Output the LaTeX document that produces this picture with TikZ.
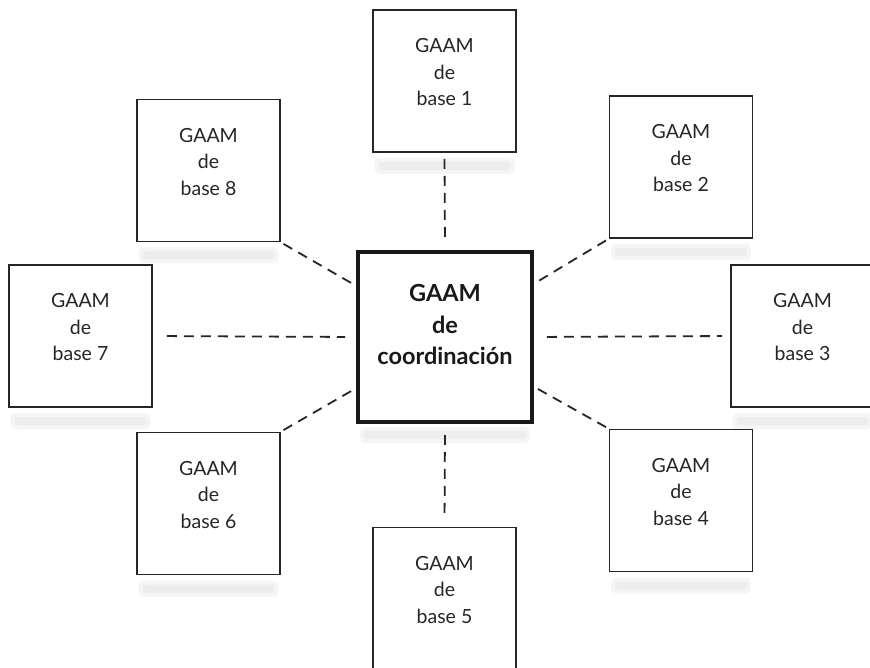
\documentclass[tikz,border=0pt]{standalone}
\usepackage{fontspec}
\setmainfont{Lato}
\begin{document}
\begin{tikzpicture}[x=1pt,y=-1pt,
  basebox/.style={draw=black!85,line width=1.8pt,fill=white,minimum width=143pt,minimum height=142pt,inner sep=0pt},
  mainbox/.style={draw=black!90,line width=3.8pt,fill=white,minimum width=174pt,minimum height=170pt,inner sep=0pt},
  basetext/.style={font=\fontsize{19.5}{26.5}\selectfont,align=center,text=black!85,inner sep=0pt},
  maintext/.style={font=\fontsize{23.5}{31.5}\selectfont\bfseries,align=center,text=black!90,inner sep=0pt},
  link/.style={draw=black!85,line width=1.8pt,dash pattern=on 10pt off 7pt},
  ghost/.style={fill=black!4,draw=none,rounded corners=5pt},
  ghostin/.style={fill=black!7,draw=none,rounded corners=3pt}
]
\useasboundingbox (0,0) rectangle (870,668);
\fill[white] (0,0) rectangle (870,668);
% soft shadows below boxes
\foreach \x/\y in {444.5/81, 681/167, 802.5/336, 681/500.5, 444.5/598.5, 208.5/503.5, 80.5/336, 208.5/170.5}{
  \fill[ghost] (\x-70,\y+77) rectangle (\x+70,\y+93);
  \fill[ghostin] (\x-66,\y+81) rectangle (\x+66,\y+89);
}
\fill[ghost] (445-85,337+90) rectangle (445+85,337+106);
\fill[ghostin] (445-81,337+94) rectangle (445+81,337+102);

\node[mainbox] (c) at (445,337) {};
\node[maintext] (ct) at (445,325) {GAAM\\de\\coordinación};

\node[basebox] (b1) at (444.5,81) {};
\node[basebox] (b2) at (681,167) {};
\node[basebox] (b3) at (802.5,336) {};
\node[basebox] (b4) at (681,500.5) {};
\node[basebox] (b5) at (444.5,598.5) {};
\node[basebox] (b6) at (208.5,503.5) {};
\node[basebox] (b7) at (80.5,336) {};
\node[basebox] (b8) at (208.5,170.5) {};

\foreach \i in {1,...,8}{
  \node[basetext] (t\i) at ([yshift=8.5pt]b\i.center) {GAAM\\de\\base \i};
}

\draw[link,shorten <=6pt,shorten >=9pt] (b1.south) -- (c.north);
\draw[link,shorten <=11pt,shorten >=10pt] (c.south) -- (b5.north);
\draw[link,shorten <=14pt,shorten >=11pt] (b7.east) -- (c.west);
\draw[link,shorten <=13pt,shorten >=8pt] (c.east) -- (b3.west);
\draw[link,shorten <=3pt,shorten >=2pt] (b8.south east) -- (c);
\draw[link,shorten <=3pt,shorten >=2pt] (b2.south west) -- (c);
\draw[link,shorten <=3pt,shorten >=2pt] (b4.north west) -- (c);
\draw[link,shorten <=3pt,shorten >=2pt] (b6.north east) -- (c);
\end{tikzpicture}
\end{document}
